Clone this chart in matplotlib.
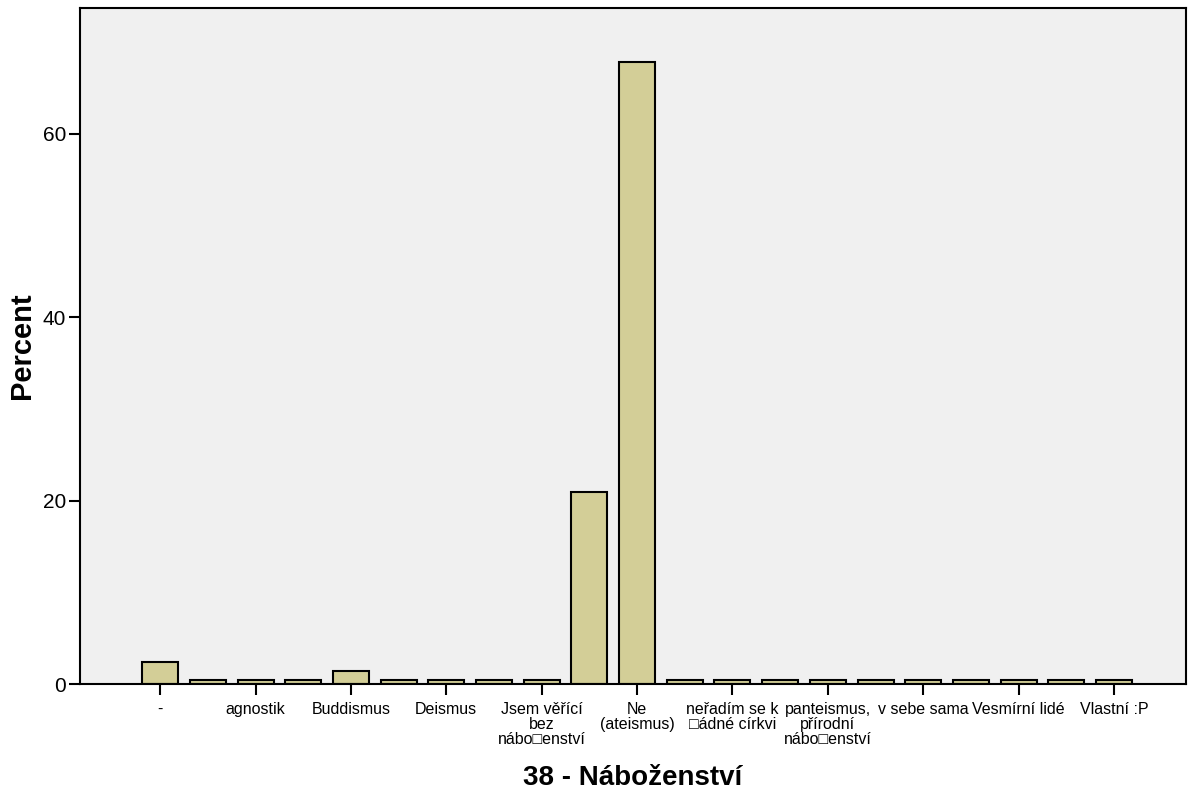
import matplotlib.pyplot as plt
import numpy as np

# ==============================
# Data
# ==============================
tick_labels = [
    "-", "", "agnostik", "", "Buddismus", "", "Deismus", "",
    "Jsem věřící\nbez\nnábo\u25a1enství", "", "Ne\n(ateismus)", "",
    "neřadím se k\n\u25a1ádné církvi", "", "panteismus,\npřírodní\nnábo\u25a1enství", "",
    "v sebe sama", "", "Vesmírní lidé", "", "Vlastní :P",
]
percent = [
    2.35, 0.47, 0.47, 0.47, 1.40, 0.47, 0.47, 0.47,
    0.47, 20.9, 67.8, 0.47,
    0.47, 0.47, 0.47, 0.47,
    0.47, 0.47, 0.47, 0.47, 0.47,
]

plt.rcParams['font.family'] = ['Liberation Sans', 'DejaVu Sans']

fig = plt.figure(figsize=(11.88, 7.92), dpi=100)
ax = fig.add_axes([80 / 1188, 1 - 684 / 792, 1106 / 1188, 676 / 792])
ax.set_facecolor('#F0F0F0')

x = np.arange(len(percent))
ax.bar(x, percent, width=0.755, color='#D3CE97', edgecolor='black', linewidth=1.5)

ax.set_xlim(-1.68, 21.51)
ax.set_ylim(0, 73.7)

# labels only on every other bar, like the original
labeled = [i for i, t in enumerate(tick_labels) if t]
ax.set_xticks(labeled)
ax.set_xticklabels([tick_labels[i] for i in labeled], fontsize=11.5, linespacing=0.98)
ax.set_yticks([0, 20, 40, 60])
ax.tick_params(axis='y', labelsize=15, length=8, width=1.5, direction='out', pad=2)
ax.tick_params(axis='x', length=8, width=1.5, direction='out', pad=5)

for s in ax.spines.values():
    s.set_linewidth(1.5)

ax.set_xlabel("38 - Náboženství", fontsize=20, fontweight='bold', labelpad=13)
ax.set_ylabel("Percent", fontsize=21, fontweight='bold', labelpad=5)

fig.savefig("out.png", dpi=100)
